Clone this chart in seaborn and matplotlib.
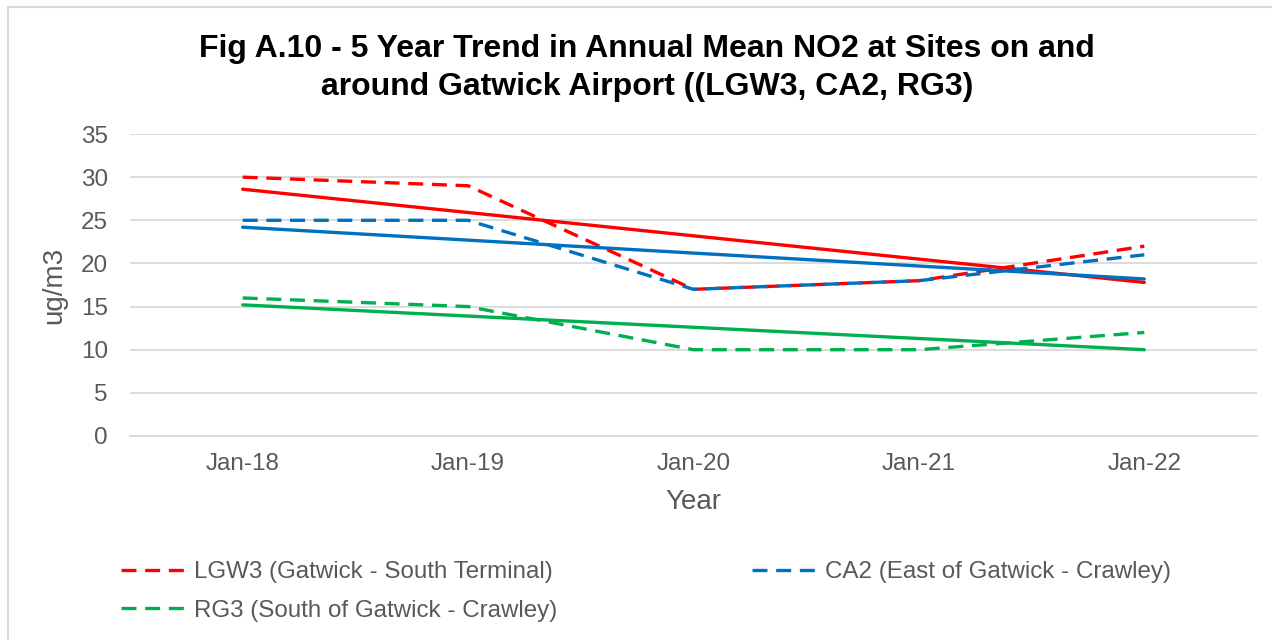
import numpy as np
import pandas as pd
import seaborn as sns
from matplotlib import pyplot as plt
from matplotlib.patches import Rectangle

# dati
anni = ["Jan-18", "Jan-19", "Jan-20", "Jan-21", "Jan-22"]
lgw3 = [30, 29, 17, 18, 22]
ca2 = [25, 25, 17, 18, 21]
rg3 = [16, 15, 10, 10, 12]

nomi = ["LGW3 (Gatwick - South Terminal)",
        "CA2 (East of Gatwick - Crawley)",
        "RG3 (South of Gatwick - Crawley)"]
colori = ["#FF0000", "#0070C0", "#00B050"]

sns.set_theme(style="white")
plt.rcParams["font.family"] = ["Liberation Sans", "DejaVu Sans"]

fig = plt.figure(figsize=(12.72, 6.4), dpi=100)
ax = fig.add_axes([130 / 1272, 1 - 436 / 640, 1127 / 1272, 302 / 640])

x = np.arange(len(anni))
linee = []
for serie, nome, col in zip([lgw3, ca2, rg3], nomi, colori):
    # linea di tendenza lineare
    sns.regplot(x=x, y=np.array(serie, dtype=float), scatter=False, ci=None,
                color=col, ax=ax, line_kws=dict(lw=2.4, solid_capstyle="round"))
    sns.lineplot(x=x, y=serie, color=col, ax=ax, lw=2.4, label=nome,
                 linestyle=(0, (4.5, 2.6)), legend=False)
    linee.append(ax.lines[-1])

ax.set_xlim(-0.5, 4.5)
ax.set_ylim(0, 35)
ax.set_yticks(range(0, 36, 5))
ax.set_xticks(x)
ax.set_xticklabels(anni)
ax.set_xticks(np.arange(-0.5, 5, 1), minor=True)
ax.tick_params(axis="x", which="major", length=0, pad=12.5, labelsize=17.5, labelcolor="#595959")
ax.tick_params(axis="x", which="minor", length=7, width=1.3, color="#D9D9D9", direction="out")
ax.tick_params(axis="y", length=0, pad=16, labelsize=17.5, labelcolor="#595959")
ax.yaxis.grid(True, color="#D9D9D9", lw=1.3)
ax.set_axisbelow(True)
for s in ["left", "right", "top"]:
    ax.spines[s].set_visible(False)
ax.spines["bottom"].set_color("#D9D9D9")
ax.spines["bottom"].set_linewidth(1.3)

ax.set_xlabel("Year", fontsize=20, color="#595959", labelpad=9.5)
ax.set_ylabel("ug/m3", fontsize=20, color="#595959", labelpad=10)

fig.text(647 / 1272, 1 - 68 / 640,
         "Fig A.10 - 5 Year Trend in Annual Mean NO2 at Sites on and\naround Gatwick Airport ((LGW3, CA2, RG3)",
         ha="center", va="center", fontsize=23, fontweight="bold",
         color="black", linespacing=1.32)

# legenda: ordine per righe
fig.legend([linee[0], linee[2], linee[1]], [nomi[0], nomi[2], nomi[1]],
           ncol=2, loc="upper left", bbox_to_anchor=(121 / 1272, 1 - 561 / 640),
           frameon=False, fontsize=17.4, labelcolor="#595959",
           handlelength=2.9, handletextpad=0.12, columnspacing=8.05,
           labelspacing=0.7, borderaxespad=0, borderpad=0)

fig.patches.append(Rectangle((8 / 1272, -0.1), 1.0, 1 - 7 / 640 + 0.1,
                             transform=fig.transFigure, fill=False,
                             edgecolor="#D9D9D9", lw=1.5))

fig.savefig("out.png", dpi=100)
